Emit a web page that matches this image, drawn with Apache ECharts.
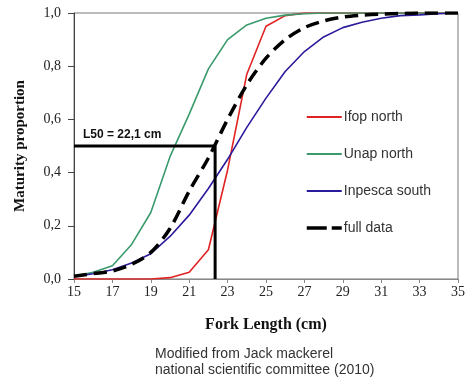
<!DOCTYPE html>
<html>
<head>
<meta charset="utf-8">
<script src="https://cdn.jsdelivr.net/npm/echarts@6/dist/echarts.min.js"></script>
<style>
  html, body { margin: 0; padding: 0; background: #fff; }
  #chart { width: 468px; height: 383px; }
</style>
</head>
<body>
<div id="chart"></div>
<script>
// fork length (cm)
var lengths = [15, 16, 17, 18, 19, 20, 21, 22, 23, 24, 25, 26, 27, 28, 29, 30, 31, 32, 33, 34, 35];
// maturity proportion per length
var ifopNorth =    [0, 0, 0, 0, 0, 0.005, 0.025, 0.11, 0.41, 0.77, 0.95, 0.99, 1, 1, 1, 1, 1, 1, 1, 1, 1];
var unapNorth =    [0.01, 0.025, 0.05, 0.13, 0.25, 0.46, 0.62, 0.79, 0.9, 0.955, 0.98, 0.992, 0.997, 1, 1, 1, 1, 1, 1, 1, 1];
var inpescaSouth = [0.01, 0.02, 0.035, 0.06, 0.095, 0.16, 0.24, 0.34, 0.45, 0.57, 0.68, 0.78, 0.855, 0.91, 0.945, 0.965, 0.98, 0.99, 0.993, 0.997, 1];
var fullData =     [0.01, 0.02, 0.03, 0.055, 0.1, 0.19, 0.33, 0.455, 0.6, 0.73, 0.83, 0.9, 0.945, 0.97, 0.985, 0.992, 0.996, 0.998, 1, 1, 1];
var seriesNames = ['Ifop north', 'Unap north', 'Inpesca south', 'full data'];
// L50 reference line
var l50X = [15, 22.35, 22.35];
var l50Y = [0.5, 0.5, 0];
var l50Label = 'L50 = 22,1 cm';

function pairs(ys) {
    return lengths.map(function (x, i) { return [x, ys[i]]; });
}

var chart = echarts.init(document.getElementById('chart'));

var serif = '"Liberation Serif", "Times New Roman", serif';
var sans = '"Liberation Sans", Arial, sans-serif';

var l50Data = l50X.map(function (x, i) { return [x, l50Y[i]]; });
l50Data[0] = {
    value: l50Data[0],
    label: {
        show: true,
        formatter: l50Label,
        position: [9, -17],
        fontFamily: sans,
        fontWeight: 'bold',
        fontSize: 12,
        color: '#111'
    }
};

var legendData = seriesNames.map(function (n) {
    if (n === 'full data') return { name: n, lineStyle: { type: [20, 5], width: 3.5 } };
    return { name: n };
});

var option = {
    animation: false,
    backgroundColor: '#fff',
    grid: {
        left: 74, right: 4, top: 13, bottom: 104,
        show: true, borderColor: '#777', borderWidth: 1
    },
    legend: {
        data: legendData,
        orient: 'vertical',
        left: 305,
        top: 110,
        padding: 0,
        itemWidth: 35,
        itemHeight: 14,
        itemGap: 23,
        itemStyle: { opacity: 0 },
        textStyle: { fontFamily: sans, fontSize: 14, color: '#333', padding: [0, 0, 0, -3] }
    },
    xAxis: {
        type: 'value',
        min: 15, max: 35, interval: 2,
        name: 'Fork Length (cm)',
        nameLocation: 'middle',
        nameGap: 38,
        nameTextStyle: { fontFamily: serif, fontWeight: 'bold', fontSize: 16, color: '#111' },
        axisLine: { lineStyle: { color: '#888' } },
        axisTick: { show: true, length: 4, lineStyle: { color: '#888' } },
        axisLabel: { fontFamily: serif, fontSize: 14, color: '#222', margin: 6 },
        splitLine: { show: false }
    },
    yAxis: {
        type: 'value',
        min: 0, max: 1, interval: 0.2,
        name: 'Maturity proportion',
        nameLocation: 'middle',
        nameGap: 46,
        nameTextStyle: { fontFamily: serif, fontWeight: 'bold', fontSize: 15, color: '#111' },
        axisLine: { show: true, lineStyle: { color: '#444' } },
        axisTick: { show: true, length: 6, lineStyle: { color: '#444' } },
        axisLabel: {
            fontFamily: serif, fontSize: 14, color: '#222', margin: 13,
            formatter: function (v) { return v.toFixed(1).replace('.', ','); }
        },
        splitLine: { show: false }
    },
    series: [
        {
            name: 'Ifop north', type: 'line', data: pairs(ifopNorth),
            showSymbol: false, symbol: 'none',
            lineStyle: { color: '#e02222', width: 1.6 }, itemStyle: { color: '#e02222' }
        },
        {
            name: 'Unap north', type: 'line', data: pairs(unapNorth),
            showSymbol: false, symbol: 'none',
            lineStyle: { color: '#3a9a6c', width: 1.6 }, itemStyle: { color: '#3a9a6c' }
        },
        {
            name: 'Inpesca south', type: 'line', data: pairs(inpescaSouth),
            showSymbol: false, symbol: 'none',
            lineStyle: { color: '#2a1a9c', width: 1.6 }, itemStyle: { color: '#2a1a9c' }
        },
        {
            name: 'full data', type: 'line', data: pairs(fullData),
            showSymbol: false, symbol: 'none', smooth: 0.3,
            lineStyle: { color: '#000', width: 3.5, type: [13, 7] }, itemStyle: { color: '#000' }
        },
        {
            name: 'L50', type: 'line', data: l50Data,
            symbol: 'circle', symbolSize: 0, showSymbol: true,
            lineStyle: { color: '#000', width: 3 }, itemStyle: { color: '#000' },
            z: 5
        }
    ],
    graphic: [
        {
            type: 'text', left: 155, top: 346,
            style: {
                text: 'Modified from Jack mackerel\nnational scientific committee (2010)',
                font: '14px ' + sans, fill: '#333', lineHeight: 16
            }
        }
    ]
};

chart.setOption(option);
</script>
</body>
</html>
